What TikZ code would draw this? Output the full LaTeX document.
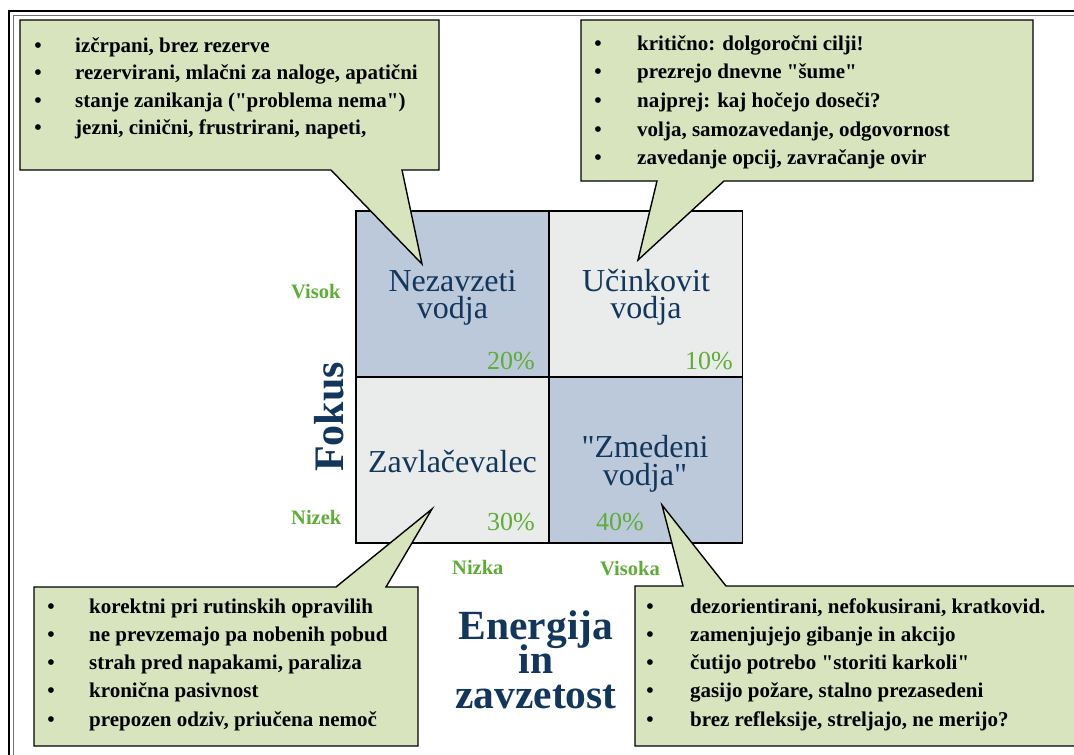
\documentclass[tikz,border=0pt]{standalone}
\usepackage{fontspec}
\setmainfont{Liberation Serif}
\usetikzlibrary{calc}
\definecolor{bubblegreen}{HTML}{D7E4BD}
\definecolor{cellblue}{HTML}{BCC9DA}
\definecolor{cellgray}{HTML}{EAECEB}
\definecolor{navy}{HTML}{12365C}
\definecolor{leafgreen}{HTML}{5EAD36}
\newcommand{\qq}{\textquotedbl}

\begin{document}
\begin{tikzpicture}[x=1pt,y=-1pt,
    bubble/.style={draw=black,line width=1.4pt,fill=bubblegreen},
    cell/.style={draw=black,line width=1.4pt,minimum width=193pt,minimum height=166pt,inner sep=0pt},
    celltxt/.style={anchor=base,inner sep=0pt,text=navy,font=\fontsize{32}{32}\selectfont},
    pct/.style={inner sep=0pt,text=leafgreen,font=\fontsize{26}{26}\selectfont},
    axlbl/.style={anchor=base west,inner sep=0pt,text=leafgreen,font=\fontsize{20.5}{20.5}\selectfont\bfseries},
    title/.style={anchor=base,inner sep=0pt,text=navy,font=\fontsize{41.5}{41.5}\selectfont\bfseries},
    item/.style={anchor=base west,inner sep=0pt,font=\fontsize{21}{21}\selectfont\bfseries},
    dot/.style={anchor=base,inner sep=0pt,font=\fontsize{21}{21}\selectfont\bfseries}]
        \useasboundingbox (0,0) rectangle (1074,755);
        % frame
        \draw[line width=1.6pt] (9,770) -- (9,11) -- (1090,11);
        \draw[line width=0.9pt,black!55] (13,770) -- (13,15) -- (1090,15);

        % the four cells
        \node[cell,fill=cellblue] (nezav) at (452.5,294) {};
        \node[cell,fill=cellgray] (ucink) at (646,294) {};
        \node[cell,fill=cellgray] (zavl) at (452.5,460) {};
        \node[cell,fill=cellblue] (zmed) at (646,460) {};

        \node[celltxt] (nezav-a) at (452.5,291) {Nezavzeti};
        \node[celltxt] (nezav-b) at (452.5,318) {vodja};
        \node[celltxt] (ucink-a) at (646,291) {Učinkovit};
        \node[celltxt] (ucink-b) at (646,318) {vodja};
        \node[celltxt] (zavl-a) at (452.5,472) {Zavlačevalec};
        \node[celltxt] (zmed-a) at (645,457) {\qq Zmedeni};
        \node[celltxt] (zmed-b) at (645,485) {vodja\qq};

        \node[pct,anchor=base east] (p20) at (535,369) {20\%};
        \node[pct,anchor=base east] (p10) at (733,369) {10\%};
        \node[pct,anchor=base east] (p30) at (535,530) {30\%};
        \node[pct,anchor=base west] (p40) at (596,530) {40\%};

        % axes
        \node[axlbl] (visok) at (291,298) {Visok};
        \node[axlbl] (nizek) at (291,524) {Nizek};
        \node[axlbl] (nizka) at (452,574) {Nizka};
        \node[axlbl] (visoka) at (600,575) {Visoka};
        \node[title,font=\fontsize{42}{42}\selectfont\bfseries,rotate=90] (fokus) at (343,417) {Fokus};
        \node[title] (energ-a) at (536,639) {Energija};
        \node[title] (energ-b) at (536,673) {in};
        \node[title] (energ-c) at (536,708) {zavzetost};

        % callouts
        \draw[bubble] (20,20) -- (439,20) -- (439,170) -- (402,170) -- (422,264) -- (331,170) -- (20,170) -- cycle;
        \draw[bubble] (581,20) -- (1033,20) -- (1033,181) -- (724,181) -- (638,260) -- (657,181) -- (581,181) -- cycle;
        \draw[bubble] (34,587) -- (336,587) -- (432,509) -- (386,587) -- (418,587) -- (418,746) -- (34,746) -- cycle;
        \draw[bubble] (635,586) -- (683,586) -- (662,505) -- (726,586) -- (1090,586) -- (1090,746) -- (635,746) -- cycle;

        \foreach \t [count=\i] in {{izčrpani, brez rezerve},{rezervirani, mlačni za naloge, apatični},{stanje zanikanja (\qq problema nema\qq)},{jezni, cinični, frustrirani, napeti,}}{
            \node[dot] (tl-dot-\i) at (38,{52+27.6*(\i-1)}) {•};
            \node[item] (tl-\i) at (75,{52+27.6*(\i-1)}) {\t};
        }
        \foreach \t [count=\i] in {{kritično: dolgoročni cilji!},{prezrejo dnevne \qq šume\qq},{najprej: kaj hočejo doseči?},{volja, samozavedanje, odgovornost},{zavedanje opcij, zavračanje ovir}}{
            \node[dot] (tr-dot-\i) at (598,{50+28.7*(\i-1)}) {•};
            \node[item] (tr-\i) at (637,{50+28.7*(\i-1)}) {\t};
        }
        \foreach \t [count=\i] in {{korektni pri rutinskih opravilih},{ne prevzemajo pa nobenih pobud},{strah pred napakami, paraliza},{kronična pasivnost},{prepozen odziv, priučena nemoč}}{
            \node[dot] (bl-dot-\i) at (51,{613+28.3*(\i-1)}) {•};
            \node[item] (bl-\i) at (89,{613+28.3*(\i-1)}) {\t};
        }
        \foreach \t [count=\i] in {{dezorientirani, nefokusirani, kratkovid.},{zamenjujejo gibanje in akcijo},{čutijo potrebo \qq storiti karkoli\qq},{gasijo požare, stalno prezasedeni},{brez refleksije, streljajo, ne merijo?}}{
            \node[dot] (br-dot-\i) at (650,{613+28.3*(\i-1)}) {•};
            \node[item] (br-\i) at (690,{613+28.3*(\i-1)}) {\t};
        }
    \end{tikzpicture}
\end{document}
